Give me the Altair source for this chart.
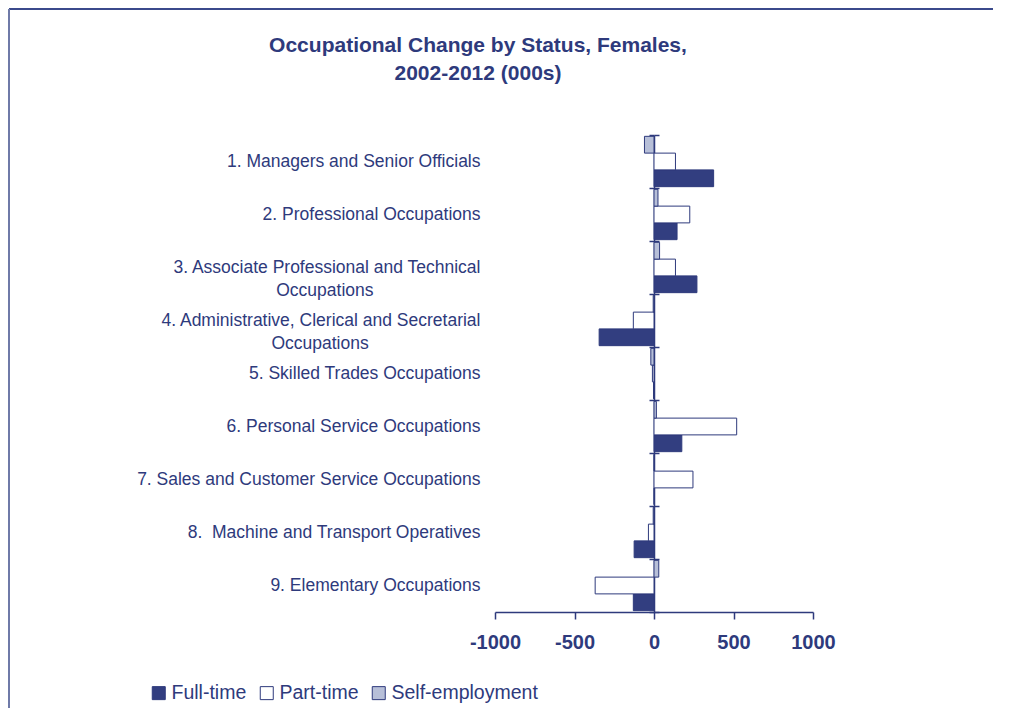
import altair as alt
import pandas as pd

NB = "\u00a0"
WJ = "\u2060"
categories = [
    "1. Managers and Senior Officials",
    "2. Professional Occupations",
    "3. Associate Professional and Technical|Occupations" + NB * 22 + WJ,
    "4. Administrative, Clerical and Secretarial|Occupations" + NB * 23 + WJ,
    "5. Skilled Trades Occupations",
    "6. Personal Service Occupations",
    "7. Sales and Customer Service Occupations",
    "8." + NB + " Machine and Transport Operatives",
    "9. Elementary Occupations",
]
statuses = ["Full-time", "Part-time", "Self-employment"]
full_time = [375, 145, 270, -345, -3, 175, 0, -125, -130]
part_time = [135, 225, 135, -130, -10, 520, 245, -35, -370]
self_emp = [-60, 25, 35, -5, -20, 15, 0, -5, 30]
x_ticks = [-1000, -500, 0, 500, 1000]

rows = []
for i, c in enumerate(categories):
    rows.append({"cat": c, "status": "Full-time", "value": full_time[i]})
    rows.append({"cat": c, "status": "Part-time", "value": part_time[i]})
    rows.append({"cat": c, "status": "Self-employment", "value": self_emp[i]})
df = pd.DataFrame(rows)

NAVY = "#2e3a7c"
FONT = "Liberation Sans"
W, H = 318, 477

xscale = alt.Scale(domain=[-1000, 1000], nice=False)
yscale = alt.Scale(paddingInner=0, paddingOuter=0)

bars = alt.Chart(df).mark_bar(stroke=NAVY, strokeWidth=1).encode(
    x=alt.X("value:Q", scale=xscale,
            axis=alt.Axis(values=x_ticks, labelExpr="'' + datum.value", grid=False, title=None,
                          labelFontSize=20, labelFontWeight="bold", labelColor=NAVY,
                          labelFont=FONT, domainColor=NAVY, domainWidth=1.5, tickColor=NAVY,
                          tickWidth=1.5, tickSize=7, labelPadding=13, labelFlush=False,
                          labelOverlap=False)),
    y=alt.Y("cat:N", sort=categories, scale=yscale,
            axis=alt.Axis(orient="left", offset=-W / 2, title=None, domain=True, domainColor=NAVY,
                          domainWidth=1.5, ticks=True, tickBand="extent", tickSize=5,
                          tickColor=NAVY, tickWidth=1.5, labelPadding=W / 2 + 15 - 5,
                          labelAlign="right", labelBaseline="middle", labelFontSize=17.5,
                          labelColor=NAVY, labelFont=FONT, labelLimit=600, labelLineHeight=23,
                          labelExpr="split(datum.label, '|')", grid=False)),
    yOffset=alt.YOffset("status:N", sort=["Self-employment", "Part-time", "Full-time"],
                        scale=alt.Scale(paddingOuter=0.08, paddingInner=0)),
    color=alt.Color("status:N",
                    scale=alt.Scale(domain=statuses, range=["#323e80", "#ffffff", "#b7bfd8"]),
                    legend=alt.Legend(orient="none", legendX=-346, legendY=548, direction="horizontal",
                                      title=None, symbolType="square", symbolSize=169,
                                      symbolStrokeColor=NAVY, symbolStrokeWidth=1,
                                      labelFontSize=19.5, labelColor=NAVY, labelFont=FONT,
                                      labelOffset=3, columnPadding=10)),
)

right_ticks = alt.Chart(df).mark_point(opacity=0).encode(
    y=alt.Y("cat:N", sort=categories, scale=yscale,
            axis=alt.Axis(orient="right", offset=-W / 2, title=None, labels=False, domain=False,
                          ticks=True, tickBand="extent", tickSize=5, tickColor=NAVY,
                          tickWidth=1.5, grid=False)),
)

one = pd.DataFrame({"a": [0]})
top_border = alt.Chart(one).mark_rule(color="#3b4a8c", strokeWidth=2).encode(
    x=alt.value(-486), x2=alt.value(498), y=alt.value(-126))
left_border = alt.Chart(one).mark_rule(color="#6f7aa8", strokeWidth=2).encode(
    x=alt.value(-486), y=alt.value(-126), y2=alt.value(573))

chart = alt.layer(bars, right_ticks, top_border, left_border).resolve_axis(
    y="independent"
).properties(
    width=W, height=H,
    title=alt.TitleParams(text=["Occupational Change by Status, Females,", "2002-2012 (000s)"],
                          fontSize=21, fontWeight="bold", color=NAVY, font=FONT,
                          anchor="middle", frame="group", dx=-176, offset=-76, lineHeight=28),
    autosize=alt.AutoSizeParams(type="none"),
    padding={"left": 487, "top": 127, "right": 180, "bottom": 96},
).configure(font=FONT).configure_view(strokeWidth=0, stroke=None)

chart.save("out.html", embed_options={"renderer": "svg", "actions": False})
